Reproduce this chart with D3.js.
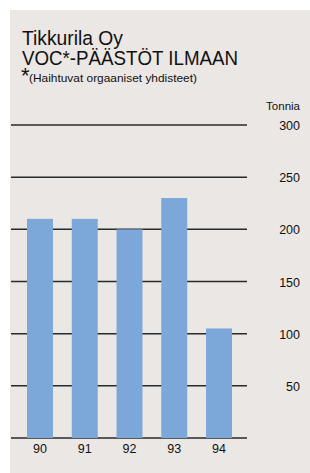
<!DOCTYPE html>
<html><head><meta charset="utf-8">
<script src="https://cdn.jsdelivr.net/npm/d3@7"></script>
<style>
html,body{margin:0;padding:0;background:#fff;}
svg{display:block;}
text{font-family:"Liberation Sans","Noto Sans",sans-serif;fill:#111;}
</style></head>
<body>
<svg id="c" width="310" height="473"></svg>
<script>
const years = ["90","91","92","93","94"];
const values = [210, 210, 200, 230, 105];
const yTicks = [0, 50, 100, 150, 200, 250, 300];
const yLabels = ["", "50", "100", "150", "200", "250", "300"];
const titleLines = ["Tikkurila Oy", "VOC*-PÄÄSTÖT ILMAAN"];
const footnote = "(Haihtuvat orgaaniset yhdisteet)";
const unitLabel = "Tonnia";

const svg = d3.select("#c");
svg.append("rect").attr("x",10).attr("y",10).attr("width",300).attr("height",463).attr("fill","#ebe7e4");

const y = d3.scaleLinear().domain([0,300]).range([438,125]);
const x = d3.scaleBand().domain(years).range([17.6,241.4]).paddingInner(0.42).paddingOuter(0.21);

// gridlines
svg.append("g").selectAll("line").data(yTicks).join("line")
  .attr("x1",11).attr("x2",247)
  .attr("y1",d=>y(d)).attr("y2",d=>y(d))
  .attr("stroke","#2a2a2a").attr("stroke-width",1.5);

// bars
svg.append("g").selectAll("rect").data(values).join("rect")
  .attr("x",(d,i)=>x(years[i]))
  .attr("width",x.bandwidth())
  .attr("y",d=>y(d))
  .attr("height",d=>y(0)-y(d))
  .attr("fill","#7ba7d9");

// y axis labels
const yAxis = d3.axisLeft(y).tickValues(yTicks.slice(1)).tickSize(0).tickPadding(0)
  .tickFormat(d=>yLabels[yTicks.indexOf(d)]);
const ga = svg.append("g").attr("transform","translate(300,0)").call(yAxis);
ga.select(".domain").remove();
ga.selectAll("text").attr("font-size",12.5).attr("fill","#111").attr("font-family","Liberation Sans, sans-serif").attr("dy","0.36em");

svg.append("text").attr("x",300).attr("y",110).attr("text-anchor","end").attr("font-size",11.5).text(unitLabel);

// x axis labels
const xAxis = d3.axisBottom(x).tickSize(0).tickPadding(0);
const gx = svg.append("g").attr("transform","translate(0,444)").call(xAxis);
gx.select(".domain").remove();
gx.selectAll("text").attr("font-size",12.5).attr("fill","#111").attr("font-family","Liberation Sans, sans-serif").attr("dy","0.71em");

// titles
svg.append("text").attr("x",22).attr("y",45).attr("font-size",20.5)
  .attr("textLength",101).attr("lengthAdjust","spacingAndGlyphs").text(titleLines[0]);
svg.append("text").attr("x",22).attr("y",65).attr("font-size",21)
  .attr("textLength",216).attr("lengthAdjust","spacingAndGlyphs").text(titleLines[1]);
svg.append("text").attr("x",21).attr("y",83).attr("font-size",22).text("*");
svg.append("text").attr("x",29).attr("y",82).attr("font-size",10.5)
  .attr("textLength",168).attr("lengthAdjust","spacingAndGlyphs").text(footnote);
</script>
</body></html>
